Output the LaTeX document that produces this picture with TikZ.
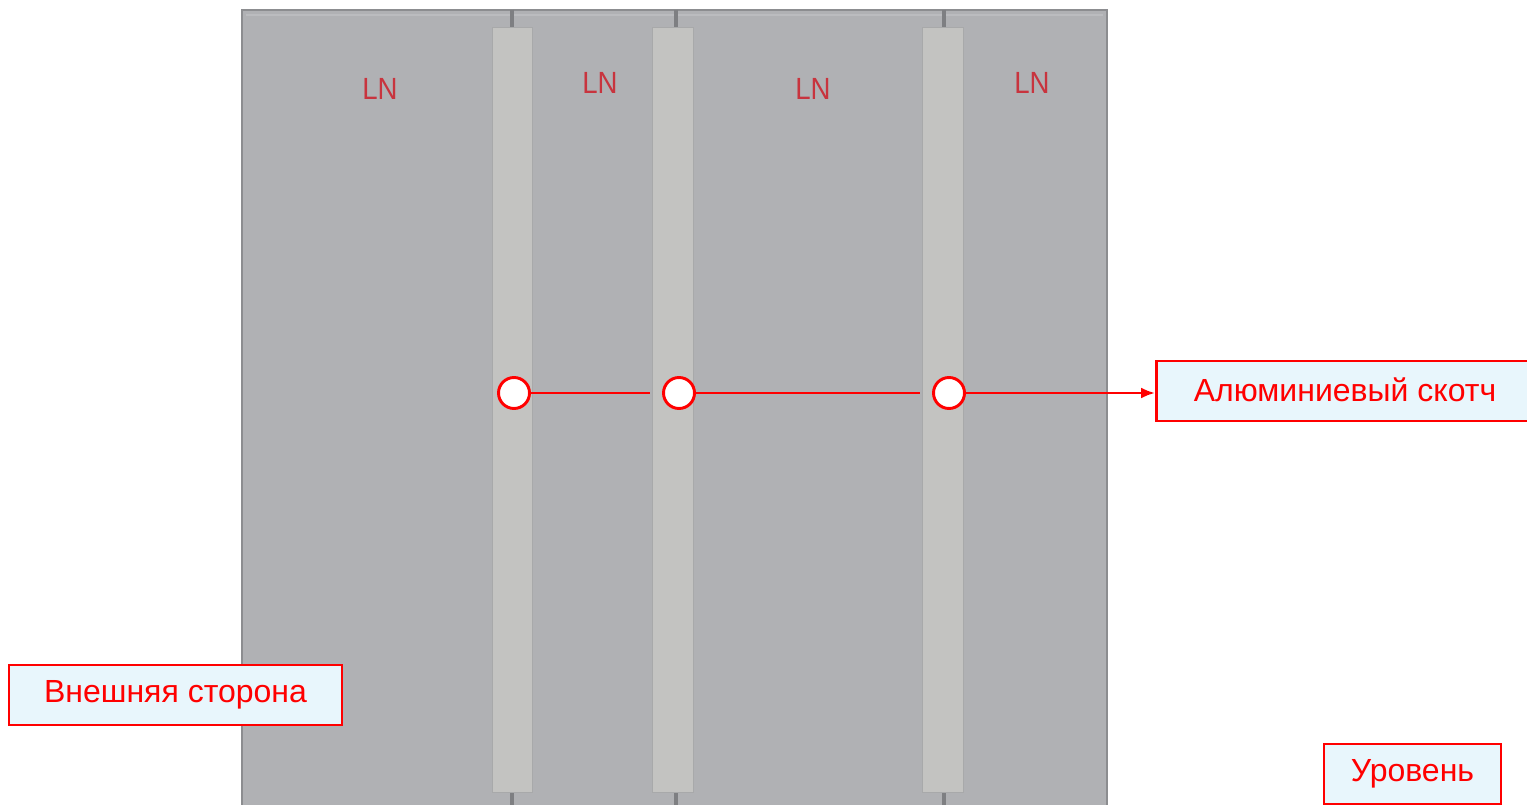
\documentclass[tikz,border=0pt]{standalone}
\usepackage{fontspec}
\setmainfont{Liberation Sans}
\usetikzlibrary{arrows.meta}
\definecolor{panelgray}{HTML}{B0B1B4}
\definecolor{paneledge}{HTML}{8C8D90}
\definecolor{stripgray}{HTML}{C3C3C1}
\definecolor{stripedge}{HTML}{A8A9AA}
\definecolor{lnred}{HTML}{C8343E}
\definecolor{boxfill}{HTML}{E8F6FC}
\definecolor{myred}{HTML}{FF0000}
\tikzset{
  px/.style={x=0.75pt,y=-0.75pt},
  strip/.style={fill=stripgray,draw=stripedge,line width=0.6pt},
  tickline/.style={draw=paneledge!90!black,line width=2.4pt},
  lnlabel/.style={text=lnred,font=\fontsize{23}{27}\selectfont,inner sep=0pt,xscale=0.9},
  dot/.style={circle,draw=myred,fill=white,line width=2.2pt,minimum size=31*0.75pt,inner sep=0pt},
  callout/.style={rectangle,draw=myred,fill=boxfill,line width=2.2pt,text=myred,
    font=\fontsize{24}{28}\selectfont,inner sep=0pt},
  link/.style={draw=myred,line width=1.9pt},
}
\begin{document}
\begin{tikzpicture}[px]
\useasboundingbox (0,0) rectangle (1527,805);
% panel
\fill[white] (0,0) rectangle (1527,805);
\draw[fill=panelgray,draw=paneledge,line width=1.8pt] (242,10) rectangle (1107,812);
\draw[draw=white,opacity=0.15,line width=1pt] (246,15) -- (1103,15);
% ticks
\foreach \x in {512,676,944}{
  \draw[tickline] (\x,10) -- (\x,28);
  \draw[tickline] (\x,790) -- (\x,806);
}
% strips
\path[strip] (492,27) rectangle (532,792);
\path[strip] (652,27) rectangle (693,792);
\path[strip] (922,27) rectangle (963,792);
% LN labels
\node[lnlabel] (ln1) at (380,89) {LN};
\node[lnlabel] (ln2) at (600,83) {LN};
\node[lnlabel] (ln3) at (813,89) {LN};
\node[lnlabel] (ln4) at (1032,83) {LN};
% callouts
\node[callout,minimum width=373*0.75pt,minimum height=60*0.75pt,anchor=west] (tape) at (1155,391) {};
\node[text=myred,font=\fontsize{24}{28}\selectfont,inner sep=0pt] (tapetext) at (1345,390) {Алюминиевый скотч};
\node[callout,minimum width=333*0.75pt,minimum height=60*0.75pt] (outer) at (175.5,695) {Внешняя сторона};
\node[callout,minimum width=177*0.75pt,minimum height=60*0.75pt] (level) at (1412.5,774) {Уровень};
% dots and links
\node[dot] (c1) at (514,393) {};
\node[dot] (c2) at (679,393) {};
\node[dot] (c3) at (949,393) {};
\draw[link,shorten >=12*0.75pt] (c1) -- (c2);
\draw[link,shorten >=12*0.75pt] (c2) -- (c3);
\draw[link,-{Latex[length=14*0.75pt,width=11*0.75pt]}] (c3) -- (c3 -| tape.west);
\end{tikzpicture}
\end{document}
